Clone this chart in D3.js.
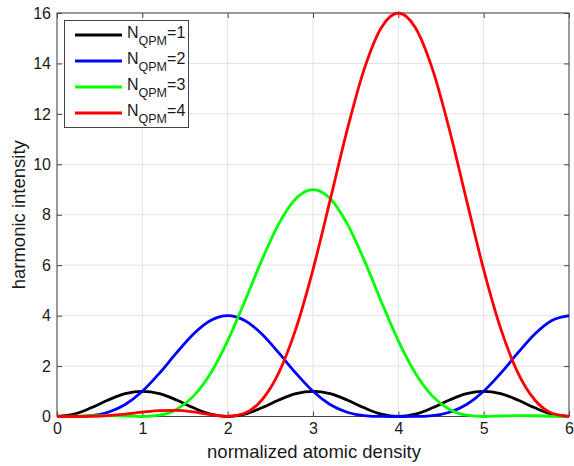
<!DOCTYPE html>
<html>
<head>
<meta charset="utf-8">
<script src="https://cdn.jsdelivr.net/npm/d3@7"></script>
<style>
  html, body { margin: 0; padding: 0; background: #fff; }
  svg { display: block; }
  text { font-family: Arial, "Liberation Sans", Helvetica, sans-serif; fill: #1a1a1a; }
</style>
</head>
<body>
<svg id="chart" width="574" height="466"></svg>
<script>
// ---- data ----
const xValues = [0,0.2,0.4,0.6,0.8,1.0,1.2,1.4,1.6,1.8,2.0,2.2,2.4,2.6,2.8,3.0,3.2,3.4,3.6,3.8,4.0,4.2,4.4,4.6,4.8,5.0,5.2,5.4,5.6,5.8,6.0];
const seriesN1 = [0,0.095,0.345,0.655,0.905,1,0.905,0.655,0.345,0.095,0,0.095,0.345,0.655,0.905,1,0.905,0.655,0.345,0.095,0,0.095,0.345,0.655,0.905,1,0.905,0.655,0.345,0.095,0];
const seriesN2 = [0,0.002,0.037,0.170,0.478,1,1.714,2.521,3.273,3.807,4,3.807,3.273,2.521,1.714,1,0.478,0.170,0.037,0.002,0,0.002,0.037,0.170,0.478,1,1.714,2.521,3.273,3.807,4];
const seriesN3 = [0,0.010,0.030,0.037,0.019,0,0.050,0.280,0.807,1.714,3,4.563,6.200,7.647,8.645,9,8.645,7.647,6.200,4.563,3,1.714,0.807,0.280,0.050,0,0.019,0.037,0.030,0.010,0];
const seriesN4 = [0,0.001,0.009,0.038,0.095,0.172,0.235,0.246,0.182,0.070,0,0.131,0.655,1.743,3.484,5.828,8.568,11.355,13.773,15.417,16,15.417,13.773,11.355,8.568,5.828,3.484,1.743,0.655,0.131,0];
const seriesLabels = ["1","2","3","4"];
const seriesColors = ["#000000","#0000ff","#00ff00","#ff0000"];
const xTicks = [0,1,2,3,4,5,6];
const yTicks = [0,2,4,6,8,10,12,14,16];
const xTitle = "normalized atomic density";
const yTitle = "harmonic intensity";

// ---- layout ----
const svg = d3.select("#chart");
const L = 57, R = 569, T = 13, B = 416.5;
const x = d3.scaleLinear().domain([0, 6]).range([L, R]);
const y = d3.scaleLinear().domain([0, 16]).range([B, T]);

// grid
const grid = svg.append("g");
grid.selectAll(".gx").data(xTicks).enter().append("line")
  .attr("x1", d => x(d)).attr("x2", d => x(d)).attr("y1", T).attr("y2", B)
  .attr("stroke", "#e3e3e3").attr("stroke-width", 1);
grid.selectAll(".gy").data(yTicks).enter().append("line")
  .attr("x1", L).attr("x2", R).attr("y1", d => y(d)).attr("y2", d => y(d))
  .attr("stroke", "#e3e3e3").attr("stroke-width", 1);

// axes (ticks inward on all sides)
const tickLen = 5;
const axB = svg.append("g").attr("transform", `translate(0,${B})`)
  .call(d3.axisBottom(x).tickValues(xTicks).tickSize(-tickLen).tickPadding(6).tickFormat(d3.format("d")));
const axT = svg.append("g").attr("transform", `translate(0,${T})`)
  .call(d3.axisTop(x).tickValues(xTicks).tickSize(-tickLen).tickFormat(""));
const axL = svg.append("g").attr("transform", `translate(${L},0)`)
  .call(d3.axisLeft(y).tickValues(yTicks).tickSize(-tickLen).tickPadding(6).tickFormat(d3.format("d")));
const axR = svg.append("g").attr("transform", `translate(${R},0)`)
  .call(d3.axisRight(y).tickValues(yTicks).tickSize(-tickLen).tickFormat(""));
[axB, axT, axL, axR].forEach(a => {
  a.select(".domain").remove();
  a.selectAll(".tick line").attr("stroke", "#444");
  a.selectAll(".tick text").attr("font-size", 16).attr("fill", "#1a1a1a")
    .style("font-family", "Arial, 'Liberation Sans', sans-serif");
});

// frame
svg.append("rect").attr("x", L).attr("y", T).attr("width", R - L).attr("height", B - T)
  .attr("fill", "none").attr("stroke", "#444").attr("stroke-width", 1);

// lines
const allSeries = [seriesN1, seriesN2, seriesN3, seriesN4];
const line = d3.line().x(d => x(d[0])).y(d => y(d[1])).curve(d3.curveMonotoneX);
allSeries.forEach((s, i) => {
  svg.append("path")
    .datum(xValues.map((xv, j) => [xv, s[j]]))
    .attr("d", line)
    .attr("fill", "none")
    .attr("stroke", seriesColors[i])
    .attr("stroke-width", 2.8)
    .attr("stroke-linejoin", "round");
});

// axis titles
svg.append("text").attr("x", 314).attr("y", 458)
  .attr("text-anchor", "middle").attr("font-size", 18.5).text(xTitle);
svg.append("text").attr("transform", `translate(25,${(T + B) / 2}) rotate(-90)`)
  .attr("text-anchor", "middle").attr("font-size", 18.5).text(yTitle);

// legend
const lg = svg.append("g");
lg.append("rect").attr("x", 64.5).attr("y", 20.5).attr("width", 124).attr("height", 107)
  .attr("fill", "#fff").attr("stroke", "#444").attr("stroke-width", 1);
seriesLabels.forEach((lab, i) => {
  const cy = 35 + i * 26;
  lg.append("line").attr("x1", 75).attr("x2", 122).attr("y1", cy).attr("y2", cy)
    .attr("stroke", seriesColors[i]).attr("stroke-width", 2.8);
  const t = lg.append("text").attr("x", 127).attr("y", cy + 3).attr("font-size", 16);
  t.append("tspan").text("N");
  t.append("tspan").attr("font-size", 12.5).attr("dy", 7).text("QPM");
  t.append("tspan").attr("font-size", 16).attr("dy", -7).text("=" + lab);
});
</script>
</body>
</html>
